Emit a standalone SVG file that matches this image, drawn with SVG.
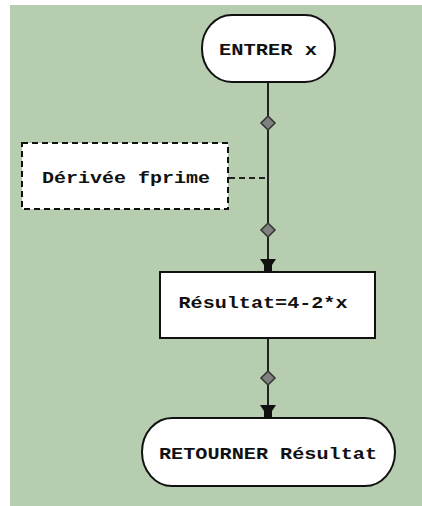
<svg xmlns="http://www.w3.org/2000/svg" width="422" height="506" viewBox="0 0 422 506">
  <style>
    .node { fill: #ffffff; stroke: #111111; stroke-width: 2; }
    .dashed { stroke-dasharray: 6 4; }
    .label { font-family: "Liberation Mono", "Courier New", monospace; font-weight: bold; font-size: 16px; fill: #111111; text-anchor: middle; }
    .flow { stroke: #222222; stroke-width: 2; fill: none; }
    .link { stroke: #222222; stroke-width: 2; fill: none; stroke-dasharray: 6 4; }
    .knot { fill: #808080; stroke: #333333; stroke-width: 1.5; }
    .head { fill: #111111; }
  </style>
  <rect x="0" y="0" width="422" height="506" fill="#ffffff"/>
  <rect x="10" y="5" width="412" height="501" fill="#b6cdb0"/>

  <g id="connectors">
    <line class="flow" x1="268" y1="82" x2="268" y2="262"/>
    <line class="flow" x1="268" y1="338" x2="268" y2="408"/>
    <line class="link" x1="229" y1="178" x2="268" y2="178"/>
    <polygon class="knot" points="268,116 275,123 268,130 261,123"/>
    <polygon class="knot" points="268,223 275,230 268,237 261,230"/>
    <polygon class="knot" points="268,371 275,378 268,385 261,378"/>
    <polygon class="head" points="260,259 276,259 272,265 272,272 264,272 264,265"/>
    <polygon class="head" points="260,405 276,405 272,411 272,418 264,418 264,411"/>
  </g>

  <g id="entrer">
    <rect class="node" x="202" y="15" width="133" height="67" rx="30" ry="33"/>
    <text class="label" x="268" y="55" textLength="98" lengthAdjust="spacingAndGlyphs">ENTRER x</text>
  </g>

  <g id="derivee">
    <rect class="node dashed" x="22" y="143" width="206" height="66"/>
    <text class="label" x="126" y="183" textLength="168" lengthAdjust="spacingAndGlyphs">Dérivée fprime</text>
  </g>

  <g id="resultat">
    <rect class="node" x="160" y="272" width="215" height="66"/>
    <text class="label" x="263" y="308" textLength="169" lengthAdjust="spacingAndGlyphs">Résultat=4-2*x</text>
  </g>

  <g id="retourner">
    <rect class="node" x="142" y="418" width="253" height="68" rx="30" ry="34"/>
    <text class="label" x="268" y="459" textLength="218" lengthAdjust="spacingAndGlyphs">RETOURNER Résultat</text>
  </g>
</svg>
